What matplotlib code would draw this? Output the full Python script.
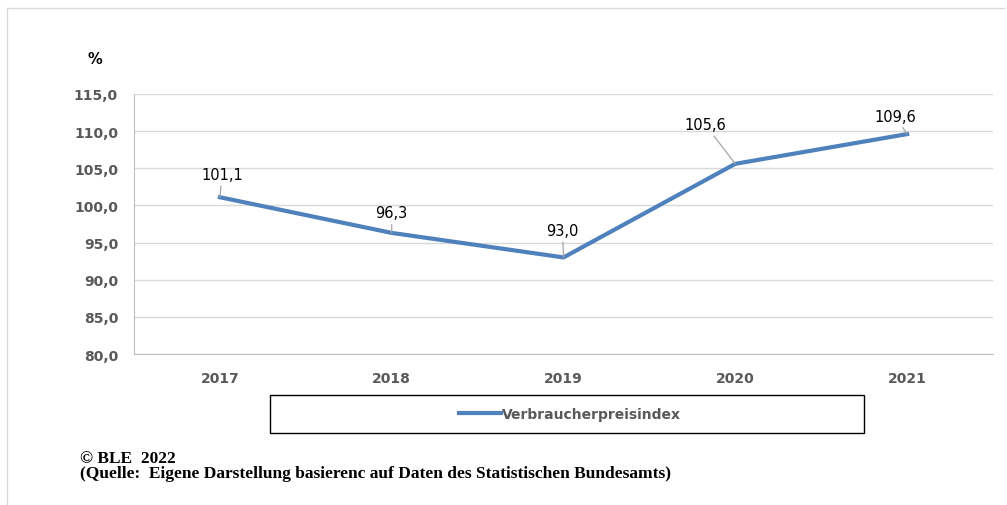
import matplotlib.pyplot as plt
from matplotlib.patches import Rectangle
from matplotlib.lines import Line2D

# Verbraucherpreisindex, 2017-2021
years = ["2017", "2018", "2019", "2020", "2021"]
values = [101.1, 96.3, 93.0, 105.6, 109.6]
# label offsets in pixels from each point
label_dx = [2, 0, -1, -30, -12]
label_dy = [23, 20, 27, 39, 18]
yticks = [80, 85, 90, 95, 100, 105, 110, 115]

blue = "#4F81BD"
tick_grey = "#595959"

fig = plt.figure(figsize=(10.07, 5.06), dpi=100)
ax = fig.add_axes([0.1331, 0.2984, 0.853, 0.5139])

x = list(range(len(years)))
ax.plot(x, values, color=blue, lw=3, solid_joinstyle="round", zorder=3,
        label="Verbraucherpreisindex")

for i, v in enumerate(values):
    ax.annotate(f"{v:.1f}".replace(".", ","), xy=(i, v),
                xytext=(label_dx[i], label_dy[i]), textcoords="offset pixels",
                ha="center", va="center", fontsize=10.5, color="black",
                family="DejaVu Sans",
                arrowprops=dict(arrowstyle="-", color="#a6a6a6", lw=0.9,
                                shrinkA=1, shrinkB=0))

ax.set_xlim(-0.5, len(years) - 0.5)
ax.set_ylim(80, 115)
ax.set_xticks(x)
ax.set_xticklabels(years)
ax.set_yticks(yticks)
ax.set_yticklabels([f"{t:.1f}".replace(".", ",") for t in yticks])
ax.tick_params(length=0, labelsize=10, labelcolor=tick_grey)
ax.tick_params(axis="y", pad=11.5)
ax.tick_params(axis="x", pad=12)
for lab in ax.get_xticklabels() + ax.get_yticklabels():
    lab.set_fontweight("bold")

ax.grid(axis="y", color="#d9d9d9", lw=1)
ax.set_axisbelow(True)
for side in ["top", "right"]:
    ax.spines[side].set_visible(False)
ax.spines["left"].set_color("#bfbfbf")
ax.spines["bottom"].set_color("#bfbfbf")

fig.text(0.094, 0.882, "%", fontsize=10.5, fontweight="bold", ha="center",
         va="center")

# legend box below the plot
fig.add_artist(Rectangle((0.268, 0.1423), 0.59, 0.0751,
                         transform=fig.transFigure, fill=False,
                         edgecolor="black", lw=1))
leg = fig.legend(handles=[Line2D([], [], color=blue, lw=3)],
                 labels=["Verbraucherpreisindex"], loc="center",
                 bbox_to_anchor=(0.566, 0.18), frameon=False, fontsize=10,
                 handlelength=3.0, handletextpad=0.1, labelcolor=tick_grey)
for t in leg.get_texts():
    t.set_fontweight("bold")

# outer frame
fig.add_artist(Line2D([0.007, 0.997], [0.982, 0.982], transform=fig.transFigure,
                      color="#d9d9d9", lw=1))
fig.add_artist(Line2D([0.007, 0.007], [0.0, 0.982], transform=fig.transFigure,
                      color="#d9d9d9", lw=1))

fig.text(0.079, 0.093, "\u00a9 BLE  2022", fontsize=12.5, fontweight="bold",
         family="Liberation Serif", va="center")
fig.text(0.079, 0.063,
         "(Quelle:  Eigene Darstellung basierenc auf Daten des Statistischen Bundesamts)",
         fontsize=12.5, fontweight="bold", family="Liberation Serif", va="center")

fig.savefig("out.png", dpi=100)
